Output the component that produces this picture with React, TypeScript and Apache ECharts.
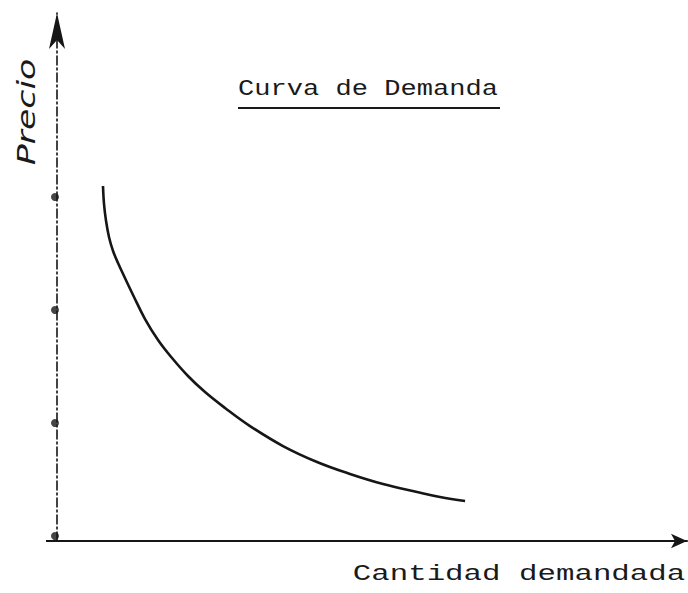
import React, { useEffect, useRef } from "react";
import * as echarts from "echarts";

// Demand curve (arbitrary units: quantity vs price)
const quantity = [0.407, 0.416, 0.434, 0.46, 0.496, 0.54, 0.593, 0.673, 0.779, 0.894, 1.018, 1.159, 1.31, 1.487, 1.708, 2.0, 2.301, 2.593, 2.885, 3.186, 3.389, 3.611];
const price = [3.097, 2.938, 2.788, 2.646, 2.522, 2.416, 2.301, 2.133, 1.92, 1.735, 1.575, 1.416, 1.274, 1.133, 0.973, 0.796, 0.655, 0.549, 0.46, 0.389, 0.345, 0.31];
// Dots marked on the price axis
const priceMarks = [0, 1, 2, 3];

const titleText = "Curva de Demanda";
const xAxisTitle = "Cantidad demandada";
const yAxisTitle = "Precio";

export default function App() {
  const ref = useRef<HTMLDivElement>(null);
  useEffect(() => {
    document.body.style.margin = "0";
    const chart = echarts.init(ref.current!, null, { renderer: "svg" });
    const ink = "#161616";
    chart.setOption({
      animation: false,
      backgroundColor: "#ffffff",
      grid: { left: 57, right: 1, top: 13, bottom: 52, containLabel: false },
      xAxis: {
        type: "value",
        min: 0,
        max: 5.575,
        axisLine: {
          show: true,
          onZero: false,
          symbol: ["none", "arrow"],
          symbolSize: [11, 16],
          lineStyle: { color: ink, width: 2 },
        },
        axisTick: { show: false },
        axisLabel: { show: false },
        splitLine: { show: false },
      },
      yAxis: {
        type: "value",
        min: -0.044,
        max: 4.628,
        axisLine: {
          show: true,
          onZero: false,
          symbol: ["none", "arrow"],
          symbolSize: [12, 36],
          lineStyle: { color: ink, width: 1.6, type: [9, 3, 2, 3] },
        },
        axisTick: { show: false },
        axisLabel: { show: false },
        splitLine: { show: false },
      },
      series: [
        {
          type: "line",
          name: "Demanda",
          data: quantity.map((q, i) => [q, price[i]]),
          smooth: 0.4,
          showSymbol: false,
          lineStyle: { color: ink, width: 2.6 },
          z: 3,
        },
        {
          type: "scatter",
          name: "marcas",
          data: priceMarks.map((v) => [0, v]),
          symbolSize: 8,
          symbolOffset: [-2, 0],
          itemStyle: { color: ink },
          z: 4,
        },
      ],
      graphic: [
        {
          type: "text",
          x: 368,
          y: 89,
          scaleX: 1.23,
          style: {
            text: titleText,
            font: "22px 'Liberation Mono'",
            fill: "#1a1a1a",
            textAlign: "center",
            textVerticalAlign: "middle",
            align: "center",
            verticalAlign: "middle",
          },
        },
        {
          type: "line",
          shape: { x1: 238, y1: 108, x2: 500, y2: 108 },
          style: { stroke: "#1a1a1a", lineWidth: 2 },
        },
        {
          type: "text",
          x: 519,
          y: 574,
          scaleX: 1.4,
          style: {
            text: xAxisTitle,
            font: "22px 'Liberation Mono'",
            fill: "#1a1a1a",
            textAlign: "center",
            textVerticalAlign: "middle",
            align: "center",
            verticalAlign: "middle",
          },
        },
        {
          type: "text",
          x: 27,
          y: 112,
          rotation: Math.PI / 2,
          scaleX: 1.45,
          style: {
            text: yAxisTitle,
            font: "italic 24px 'DejaVu Sans'",
            fill: "#1a1a1a",
            textAlign: "center",
            textVerticalAlign: "middle",
            align: "center",
            verticalAlign: "middle",
          },
        },
        {
          type: "line",
          shape: { x1: 46, y1: 541, x2: 57, y2: 541 },
          style: { stroke: ink, lineWidth: 2 },
        },
      ],
    });
    return () => chart.dispose();
  }, []);
  return (
    <div
      ref={ref}
      style={{ position: "fixed", left: 0, top: 0, width: 688, height: 593, background: "#fff" }}
    />
  );
}
